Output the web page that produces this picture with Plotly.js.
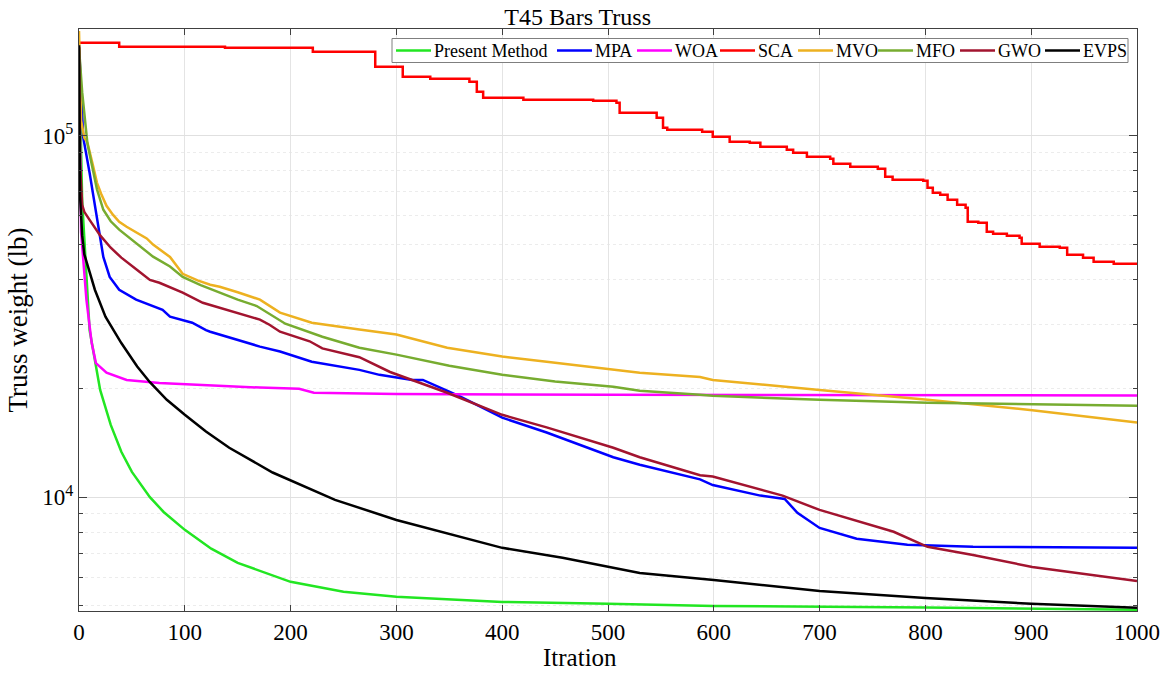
<!DOCTYPE html>
<html>
<head>
<meta charset="utf-8">
<script src="https://cdn.plot.ly/plotly-3.0.1.min.js"></script>
<style>
html,body{margin:0;padding:0;background:#fff;}
#chart{width:1160px;height:673px;}
</style>
</head>
<body>
<div id="chart"></div>
<script>
// ---- Data ----
const seriesNames = ["Present Method", "MPA", "WOA", "SCA", "MVO", "MFO", "GWO", "EVPS"];

const presentIter = [0, 3, 10, 20, 30, 40, 50, 67, 80, 100, 125, 150, 200, 250, 300, 400, 500, 600, 800, 1000];
const presentWeight = [175000, 66000, 29000, 19800, 15850, 13350, 11750, 10000, 9100, 8120, 7200, 6580, 5830, 5470, 5300, 5130, 5070, 5000, 4950, 4880];

const mpaIter = [0, 4, 10, 15, 20, 23, 29, 38, 54, 79, 86, 107, 120, 124, 171, 190, 220, 265, 284, 315, 325, 360, 400, 442, 505, 530, 587, 599, 644, 667, 679, 700, 735, 783, 845, 1000];
const mpaWeight = [178000, 99000, 79000, 63600, 51500, 46200, 40700, 37500, 35200, 33000, 31600, 30400, 29000, 28700, 26100, 25300, 23700, 22500, 21800, 21100, 21100, 19000, 16600, 15100, 12900, 12300, 11200, 10800, 10100, 9890, 9050, 8220, 7670, 7380, 7290, 7240];

const woaIter = [0, 2, 7, 12, 16, 26, 45, 76, 171, 208, 222, 300, 500, 1000];
const woaWeight = [172000, 54000, 35200, 26700, 23500, 22100, 21100, 20700, 20100, 19950, 19450, 19300, 19200, 19110];

const scaIter = [0, 38, 138, 221, 280, 306, 332, 369, 376, 382, 420, 486, 508, 511, 546, 552, 556, 589, 599, 615, 634, 644, 669, 675, 688, 710, 713, 729, 755, 762, 769, 798, 802, 807, 814, 821, 830, 838, 840, 850, 858, 864, 877, 889, 891, 908, 927, 934, 949, 959, 978, 1000];
const scaWeight = [180900, 176300, 175200, 170800, 155200, 145700, 143800, 141100, 132400, 127400, 125800, 125000, 123400, 115800, 112100, 105250, 103900, 102600, 99360, 96250, 95630, 93240, 91480, 89740, 87480, 86380, 83690, 82100, 81070, 77050, 75580, 75100, 71820, 69560, 68680, 66530, 64420, 63200, 57800, 57430, 54240, 53550, 52870, 52200, 50240, 49290, 48980, 46840, 45950, 44800, 44220, 43950];

const mvoIter = [0, 2, 5, 8, 13, 17, 21, 26, 32, 38, 45, 55, 64, 70, 86, 98, 112, 124, 133, 150, 164, 171, 190, 202, 220, 265, 300, 348, 400, 442, 505, 530, 587, 599, 700, 802, 901, 1000];
const mvoWeight = [195000, 110000, 98700, 95700, 83200, 74100, 69000, 64000, 60500, 57800, 56000, 54000, 52000, 50000, 46200, 41500, 39800, 38700, 38200, 36900, 35800, 35200, 32400, 31600, 30400, 29100, 28200, 25900, 24500, 23700, 22500, 22100, 21500, 21100, 19800, 18600, 17400, 16100];

const mfoIter = [0, 3, 8, 13, 17, 23, 30, 38, 45, 54, 70, 86, 98, 115, 133, 150, 168, 195, 230, 265, 300, 350, 400, 450, 505, 530, 587, 599, 700, 802, 1000];
const mfoWeight = [175000, 132000, 95000, 80000, 71000, 62400, 58000, 55000, 53000, 50600, 46300, 43500, 40700, 38600, 36800, 35200, 33800, 30200, 27800, 25900, 24800, 23100, 21800, 20900, 20200, 19700, 19200, 19070, 18600, 18240, 17900];

const gwoIter = [0, 1, 3, 5, 10, 20, 30, 40, 55, 67, 76, 98, 117, 149, 171, 180, 190, 218, 230, 265, 294, 348, 400, 442, 505, 530, 587, 599, 665, 700, 770, 802, 845, 901, 1000];
const gwoWeight = [176000, 84000, 64400, 61600, 58500, 53000, 49000, 46000, 42500, 39900, 39200, 36800, 34500, 32400, 31000, 30000, 28700, 27000, 25800, 24400, 22200, 19450, 16900, 15600, 13700, 12900, 11500, 11400, 10100, 9220, 8020, 7290, 6920, 6410, 5860];

const evpsIter = [0, 1, 3, 5, 10, 15, 25, 40, 55, 67, 83, 100, 120, 142, 183, 242, 300, 400, 457, 530, 600, 700, 800, 900, 1000];
const evpsWeight = [178000, 68000, 53000, 47000, 42000, 37500, 31600, 26700, 23000, 20800, 18600, 16900, 15200, 13700, 11700, 9830, 8650, 7240, 6800, 6170, 5900, 5500, 5260, 5070, 4940];

const xTickVals = [0, 100, 200, 300, 400, 500, 600, 700, 800, 900, 1000];
const yMajorVals = [10000, 100000];
const yMajorText = ["10<sup>4</sup>", "10<sup>5</sup>"];
const yMinorVals = [5000, 6000, 7000, 8000, 9000, 20000, 30000, 40000, 50000, 60000, 70000, 80000, 90000];

const colors = ["#22e622", "#0000ff", "#ff00ff", "#ff0000", "#edb120", "#77ac30", "#a2142f", "#000000"];

// ---- Geometry helpers (pixel -> paper) ----
const W = 1160, H = 673;
const M = {l: 79, r: 23, t: 29, b: 62};
const PW = W - M.l - M.r, PH = H - M.t - M.b;
const px2x = p => (p - M.l) / PW;
const px2y = p => (H - M.b - p) / PH;

// ---- Traces ----
const allIter = [presentIter, mpaIter, woaIter, scaIter, mvoIter, mfoIter, gwoIter, evpsIter];
const allWeight = [presentWeight, mpaWeight, woaWeight, scaWeight, mvoWeight, mfoWeight, gwoWeight, evpsWeight];

const traces = seriesNames.map((name, i) => ({
  type: "scatter",
  mode: "lines",
  name: name,
  x: allIter[i],
  y: allWeight[i],
  line: {color: colors[i], width: 2.5, shape: name === "SCA" ? "hv" : "linear"},
  showlegend: false,
  hoverinfo: "skip"
}));

const serif = "Liberation Serif, Times New Roman, serif";

// ---- Custom compact legend (box, line samples, labels) ----
const legendLineStart = [396, 557, 637, 720, 798, 878, 960, 1045];
const legendLineLen = 35;
const legendMidY = 50.5;
const shapes = [{
  type: "rect", xref: "paper", yref: "paper", layer: "above",
  x0: px2x(392), x1: px2x(1128), y0: px2y(38.5), y1: px2y(62.5),
  fillcolor: "#ffffff", line: {color: "#7f7f7f", width: 1}
}];
const annotations = [];
seriesNames.forEach((name, i) => {
  const x0 = legendLineStart[i];
  shapes.push({
    type: "line", xref: "paper", yref: "paper", layer: "above",
    x0: px2x(x0), x1: px2x(x0 + legendLineLen), y0: px2y(legendMidY), y1: px2y(legendMidY),
    line: {color: colors[i], width: 2.5}
  });
  annotations.push({
    xref: "paper", yref: "paper", x: px2x(x0 + legendLineLen + 1), y: px2y(legendMidY + 1),
    xanchor: "left", yanchor: "middle", showarrow: false,
    text: name, font: {family: serif, size: 18, color: "#000"}
  });
});
annotations.push({
  xref: "paper", yref: "paper", x: px2x(580), y: px2y(657),
  xanchor: "center", yanchor: "middle", showarrow: false,
  text: "Itration", font: {family: serif, size: 25, color: "#000"}
});

const layout = {
  width: W,
  height: H,
  margin: M,
  paper_bgcolor: "#ffffff",
  plot_bgcolor: "#ffffff",
  font: {family: serif, color: "#000", size: 20},
  title: {text: "T45 Bars Truss", font: {family: serif, size: 24, color: "#000"}, x: 0.498, xanchor: "center", xref: "container", yref: "container", y: 0.975, yanchor: "middle"},
  showlegend: false,
  shapes: shapes,
  annotations: annotations,
  xaxis: {
    range: [0, 1000],
    tickmode: "array",
    tickvals: xTickVals,
    ticktext: xTickVals.map(String),
    ticks: "inside",
    ticklen: 6,
    tickcolor: "#404040",
    showline: true,
    linecolor: "#404040",
    linewidth: 1,
    mirror: "allticks",
    showgrid: true,
    gridcolor: "#e4e4e4",
    gridwidth: 1,
    zeroline: false,
    tickfont: {family: serif, size: 23, color: "#000"}
  },
  yaxis: {
    type: "log",
    range: [3.685, 5.2955],
    tickmode: "array",
    tickvals: yMajorVals,
    ticktext: yMajorText,
    ticks: "inside",
    ticklen: 8,
    tickcolor: "#404040",
    showline: true,
    linecolor: "#404040",
    linewidth: 1,
    mirror: "allticks",
    showgrid: true,
    gridcolor: "#e0e0e0",
    gridwidth: 1,
    zeroline: false,
    tickfont: {family: serif, size: 23, color: "#000"},
    title: {text: "Truss weight (lb)", font: {family: serif, size: 27, color: "#000"}, standoff: 6},
    minor: {
      tickmode: "array",
      tickvals: yMinorVals,
      ticks: "inside",
      ticklen: 4,
      tickcolor: "#404040",
      showgrid: true,
      gridcolor: "#ececec",
      griddash: "dot",
      gridwidth: 1
    }
  }
};

Plotly.newPlot("chart", traces, layout, {staticPlot: true, displayModeBar: false});
</script>
</body>
</html>
